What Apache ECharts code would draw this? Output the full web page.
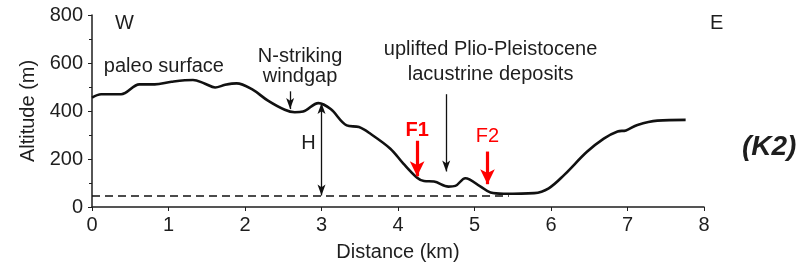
<!DOCTYPE html>
<html>
<head>
<meta charset="utf-8">
<script src="https://cdn.jsdelivr.net/npm/echarts@6/dist/echarts.min.js"></script>
<style>
  html, body { margin: 0; padding: 0; background: #fff; }
  #chart { width: 801px; height: 267px; }
</style>
</head>
<body>
<div id="chart"></div>
<script>
// topographic profile, distance (km) vs altitude (m)
const distance = [0.0, 0.12, 0.38, 0.62, 0.82, 1.04, 1.32, 1.47, 1.61, 1.74, 1.89, 2.09, 2.30, 2.52, 2.65, 2.76,
  2.96, 3.12, 3.33, 3.49, 3.64, 3.90, 4.07, 4.25, 4.34, 4.47, 4.66, 4.75, 4.88, 5.08, 5.21, 5.38, 5.78,
  5.97, 6.17, 6.47, 6.69, 6.87, 6.98, 7.13, 7.39, 7.76];
const altitude = [456, 470, 470, 511, 511, 522, 529, 515, 498, 509, 515, 491, 443, 405, 395, 398,
  433, 408, 340, 333, 305, 243, 181, 122, 108, 106, 85, 88, 120, 85, 60, 55, 58,
  78, 133, 230, 285, 315, 319, 342, 360, 363];

const baseLevel = 48;          // dashed reference level (m)
const baseLevelEnd = 5.45;     // km where dashed line stops

// arrows: [x, yFrom, yTo]
const blackArrows = [[2.59, 482, 408], [4.63, 470, 148]];
const hArrow = [3.0, 433, 48];
const redArrows = [[4.25, 276, 128], [5.17, 231, 95]];

// annotation texts in data coords: [x, y, text, lineHeight]
const notes = [
  [0.94, 585, 'paleo surface', 20],
  [2.72, 585, 'N-striking\nwindgap', 20],
  [5.21, 604, 'uplifted Plio-Pleistocene\nlacustrine deposits', 25],
  [2.83, 264, 'H', 20]
];
const faultLabels = [[4.25, 318, 'F1'], [5.17, 292, 'F2']];

const profile = distance.map((d, i) => [d, altitude[i]]);
const font = 'Liberation Sans, Arial, sans-serif';
const ink = '#1e1e1e';

const chart = echarts.init(document.getElementById('chart'));

const arrowLine = (a) => [{ coord: [a[0], a[1]] }, { coord: [a[0], a[2]] }];

chart.setOption({
  animation: false,
  grid: { left: 92, right: 97, top: 15, bottom: 58 },
  xAxis: {
    type: 'value', min: 0, max: 8, interval: 1,
    name: 'Distance (km)', nameLocation: 'middle', nameGap: 35,
    nameTextStyle: { fontFamily: font, fontSize: 20, color: ink },
    axisLine: { lineStyle: { color: ink, width: 1.5 } },
    axisTick: { length: 4, lineStyle: { color: ink } },
    axisLabel: { fontFamily: font, fontSize: 20, color: ink, margin: 8 },
    splitLine: { show: false }
  },
  yAxis: {
    type: 'value', min: 0, max: 800, interval: 200,
    name: 'Altitude (m)', nameLocation: 'middle', nameGap: 53,
    nameTextStyle: { fontFamily: font, fontSize: 20, color: ink },
    axisLine: { show: true, lineStyle: { color: ink, width: 1.5 } },
    axisTick: { show: true, length: 4, lineStyle: { color: ink } },
    minorTick: { show: true, splitNumber: 2, length: 3, lineStyle: { color: ink } },
    axisLabel: { fontFamily: font, fontSize: 20, color: ink, margin: 9 },
    splitLine: { show: false }
  },
  series: [
    {
      type: 'line',
      data: profile,
      smooth: 0.35,
      showSymbol: false,
      lineStyle: { color: '#111', width: 2.6 },
      markLine: {
        silent: true,
        symbol: ['none', 'none'],
        label: { show: false },
        lineStyle: { color: '#111', width: 1.5, type: [8, 5] },
        data: [[{ coord: [0, baseLevel] }, { coord: [baseLevelEnd, baseLevel] }]]
      }
    },
    {
      type: 'line', data: [],
      markLine: {
        silent: true,
        symbol: ['none', 'arrow'],
        symbolSize: [6, 11],
        label: { show: false },
        lineStyle: { color: '#111', width: 1.3, type: 'solid' },
        data: blackArrows.map(arrowLine)
      }
    },
    {
      type: 'line', data: [],
      markLine: {
        silent: true,
        symbol: ['arrow', 'arrow'],
        symbolSize: [6, 11],
        label: { show: false },
        lineStyle: { color: '#111', width: 1.3, type: 'solid' },
        data: [arrowLine(hArrow)]
      }
    },
    {
      type: 'line', data: [],
      markLine: {
        silent: true,
        symbol: ['none', 'arrow'],
        symbolSize: [11, 15],
        label: { show: false },
        lineStyle: { color: '#ff0000', width: 3.2, type: 'solid' },
        data: redArrows.map(arrowLine)
      }
    },
    {
      type: 'scatter',
      symbolSize: 0,
      silent: true,
      clip: false,
      itemStyle: { opacity: 1 },
      data: notes.map(n => ({ value: [n[0], n[1]], name: n[2], label: { lineHeight: n[3] } })),
      label: {
        show: true, position: 'inside', formatter: p => p.name, opacity: 1,
        fontFamily: font, fontSize: 20, color: ink, align: 'center'
      }
    },
    {
      type: 'scatter',
      symbolSize: 0,
      silent: true,
      clip: false,
      itemStyle: { opacity: 1 },
      data: faultLabels.map((n, i) => ({
        value: [n[0], n[1]], name: n[2],
        label: { fontWeight: i === 0 ? 'bold' : 'normal' }
      })),
      label: {
        show: true, position: 'inside', formatter: p => p.name, opacity: 1,
        fontFamily: font, fontSize: 20, color: '#ff0000'
      }
    }
  ],
  graphic: [
    { type: 'text', left: 115, top: 13, style: { text: 'W', font: '20px ' + font, fill: ink } },
    { type: 'text', left: 710, top: 13, style: { text: 'E', font: '20px ' + font, fill: ink } },
    { type: 'text', left: 742, top: 133, style: { text: '(K2)', font: 'italic bold 28px ' + font, fill: ink } }
  ]
});
</script>
</body>
</html>
